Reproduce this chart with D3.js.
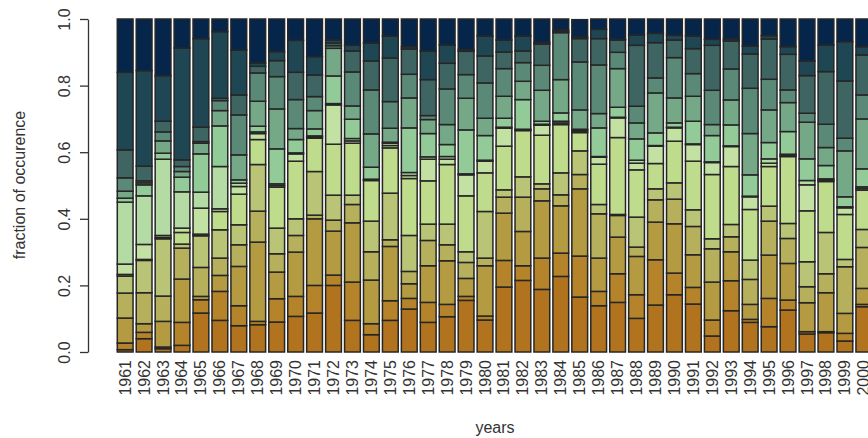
<!DOCTYPE html>
<html>
<head>
<meta charset="utf-8">
<script src="https://cdn.jsdelivr.net/npm/d3@7/dist/d3.min.js"></script>
<style>
  body { margin: 0; background: #fff; overflow: hidden; }
  text { font-family: "Liberation Sans", Arial, Helvetica, sans-serif; }
</style>
</head>
<body>
<svg id="chart"></svg>
<script>
// years on the x axis (the bar for 2000 is cut by the window edge)
const years = d3.range(1961, 2001).map(String);

// fraction of occurence per class, bottom of the stack first, one value per year 1961..2000
const class01 = [.007,.040,.010,.020,.117,.095,.079,.082,.090,.107, .117,.200,.095,.052,.095,.129,.089,.106,.155,.096, .195,.215,.188,.227,.165,.139,.149,.101,.141,.172, .144,.048,.124,.089,.076,.126,.054,.058,.033,.136];
const class02 = [.020,.019,.005,.069,.040,.087,.060,.010,.070,.060, .083,.031,.115,.033,.059,.032,.060,.037,.012,.012, .080,.044,.094,.070,.123,.043,.086,.071,.136,.065, .050,.048,.090,.009,.085,.030,.007,.003,.023,.007];
const class03 = [.075,.026,.077,.130,.010,.048,.118,.238,.080,.133, .200,.132,.178,.131,.163,.044,.110,.131,.054,.151, .142,.103,.172,.142,.202,.100,.110,.115,.113,.148, .098,.114,.087,.045,.130,.110,.087,.117,.060,.048];
const class04 = [.075,.093,.076,.093,.087,.052,.065,.093,.055,.050, .011,.033,.055,.085,.020,.037,.076,.048,.048,.023, .048,.103,.036,.033,.043,.133,.065,.028,.067,.074, .085,.100,.045,.075,.102,.075,.048,.057,.140,.123];
const class05 = [.051,.097,.172,.012,.095,.085,.060,.140,.077,.050, .131,.075,.028,.092,.140,.108,.049,.062,.032,.140, .022,.061,.015,.066,.071,.028,.003,.090,.033,.049, .050,.030,.037,.058,.045,.045,.075,.124,.022,.054];
const class06 = [.005,.003,.004,.035,.005,.055,.092,.075,.123,.173, .100,.153,.156,.122,.136,.171,.130,.179,.168,.116, .131,.139,.146,.145,.055,.121,.231,.142,.076,.125, .146,.193,.174,.152,.119,.201,.153,.153,.135,.118];
const class07 = [.031,.045,.006,.013,.078,.008,.023,.018,.005,.022, .004,.118,.007,.002,.007,.009,.065,.016,.063,.035, .054,.002,.030,.005,.004,.021,.059,.020,.052,.040, .050,.036,.060,.038,.010,.003,.078,.004,.020,.005];
const class08 = [.186,.146,.229,.109,.048,.127,.010,.005,.005,.003, .003,.004,.007,.002,.007,.009,.007,.008,.003,.003, .003,.002,.003,.005,.004,.002,.002,.009,.002,.002, .002,.002,.002,.002,.013,.004,.013,.004,.003,.005];
const class09 = [.012,.033,.018,.044,.115,.122,.010,.017,.105,.040, .021,.083,.058,.036,.003,.134,.070,.036,.132,.074, .027,.089,.009,.025,.002,.086,.030,.064,.038,.013, .068,.079,.063,.064,.049,.068,.065,.040,.030,.054];
const class10 = [.021,.006,.037,.017,.032,.046,.075,.075,.120,.033, .055,.083,.040,.100,.042,.090,.042,.060,.095,.052, .066,.055,.093,.100,.058,.043,.116,.048,.120,.075, .075,.033,.075,.124,.098,.087,.110,.054,.138,.150];
const class11 = [.040,.006,.027,.015,.005,.030,.120,.085,.097,.087, .042,.008,.102,.132,.080,.071,.012,.107,.071,.106, .083,.056,.075,.141,.144,.146,.049,.050,.045,.121, .068,.103,.093,.136,.092,.038,.027,.070,.038,.072];
const class12 = [.084,.044,.032,.020,.043,.007,.060,.020,.048,.082, .065,.008,.063,.087,.131,.076,.108,.077,.070,.081, .050,.035,.064,.003,.070,.079,.037,.183,.106,.053, .075,.135,.084,.103,.121,.107,.113,.158,.172,.120];
const class13 = [.233,.287,.137,.336,.266,.200,.135,.010,.027,.096, .055,.009,.017,.054,.066,.007,.086,.055,.005,.060, .036,.045,.005,.005,.005,.028,.002,.031,.028,.014, .038,.018,.006,.024,.010,.023,.044,.080,.118,.025];
const class14 = [.160,.155,.170,.087,.059,.038,.093,.132,.098,.064, .113,.063,.079,.072,.051,.083,.096,.078,.092,.051, .063,.051,.070,.033,.052,.031,.061,.048,.043,.049, .051,.061,.060,.081,.050,.083,.126,.078,.068,.083];

const series = [class01, class02, class03, class04, class05, class06, class07,
                class08, class09, class10, class11, class12, class13, class14];
const keys = series.map((s, i) => "c" + i);

// brown -> yellow green -> teal -> navy
const colors = ["#b1731e", "#b5842a", "#b49b42", "#b6af5c", "#b9c476", "#bedc8c", "#c2e1a2",
                "#b3dba3", "#92ca98", "#75a887", "#5b8977", "#3f6563", "#1f4653", "#05264a"];

const width = 868;
const height = 438;

const svg = d3.select("#chart")
    .attr("width", width)
    .attr("height", height);

// one row per year for d3.stack
const table = years.map((y, j) => {
    const row = { year: y };
    series.forEach((s, i) => { row[keys[i]] = s[j]; });
    return row;
});

const stacked = d3.stack().keys(keys)(table);

const x = d3.scaleBand()
    .domain(years)
    .range([115.7, 873.3])
    .paddingInner(1 / 6)
    .paddingOuter(1 / 12);

const y = d3.scaleLinear()
    .domain([0, 1])
    .range([352, 19]);

const color = d3.scaleOrdinal().domain(keys).range(colors);

// stacked bars
svg.append("g")
    .selectAll("g")
    .data(stacked)
    .enter().append("g")
    .attr("fill", d => color(d.key))
    .selectAll("rect")
    .data(d => d)
    .enter().append("rect")
    .attr("x", d => x(d.data.year))
    .attr("width", x.bandwidth())
    .attr("y", d => y(d[1]))
    .attr("height", d => y(d[0]) - y(d[1]))
    .attr("stroke", "#262626")
    .attr("stroke-width", 1.5);

// y axis, labels turned like R does
const yAxis = svg.append("g")
    .attr("transform", "translate(88,0)")
    .call(d3.axisLeft(y).tickValues([0, 0.2, 0.4, 0.6, 0.8, 1]).tickFormat(d3.format(".1f"))
        .tickSize(8).tickSizeOuter(0));
yAxis.select(".domain").attr("stroke", "#333").attr("stroke-width", 1.3);
yAxis.selectAll(".tick line").attr("stroke", "#333").attr("stroke-width", 1.3);
yAxis.selectAll(".tick text")
    .attr("transform", "rotate(-90)")
    .attr("x", 0)
    .attr("y", -18)
    .attr("dy", 0)
    .attr("text-anchor", "middle")
    .attr("fill", "#333")
    .style("font-size", "16px");

// year labels, vertical
const xAxis = svg.append("g")
    .attr("transform", "translate(0,352)")
    .call(d3.axisBottom(x).tickSize(0));
xAxis.select(".domain").remove();
xAxis.selectAll(".tick text")
    .attr("transform", "rotate(-90)")
    .attr("x", -8)
    .attr("y", 5.5)
    .attr("dy", 0)
    .attr("text-anchor", "end")
    .attr("fill", "#333")
    .style("font-size", "16px");

// axis titles
svg.append("text")
    .attr("transform", "translate(25,185) rotate(-90)")
    .attr("text-anchor", "middle")
    .attr("fill", "#333")
    .style("font-size", "16px")
    .text("fraction of occurence");

svg.append("text")
    .attr("x", 495)
    .attr("y", 433)
    .attr("text-anchor", "middle")
    .attr("fill", "#333")
    .style("font-size", "16px")
    .text("years");
</script>
</body>
</html>
